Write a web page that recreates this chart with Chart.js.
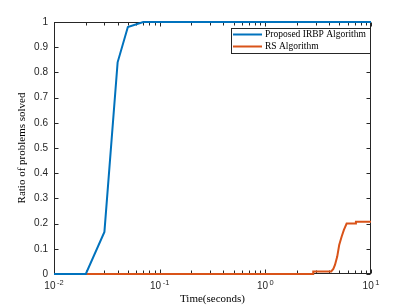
<!DOCTYPE html>
<html><head><meta charset="utf-8">
<script src="https://cdn.jsdelivr.net/npm/chart.js@4/dist/chart.umd.min.js"></script>
<style>html,body{margin:0;padding:0;background:#fff}</style>
</head><body>
<canvas id="c" width="411" height="308"></canvas>
<script>
const seriesNames = ['Proposed IRBP Algorithm', 'RS Algorithm'];
const seriesColors = ['#0072BD', '#D95319'];
const irbpTime  = [0.01, 0.02, 0.03, 0.04, 0.05, 0.07, 10];
const irbpRatio = [0, 0, 0.167, 0.84, 0.98, 1, 1];
const rsTime  = [0.01, 2.84, 2.84, 4.2, 4.4, 4.56, 4.79, 5.0, 5.27, 5.54, 5.88, 7.2, 7.2, 10];
const rsRatio = [0, 0, 0.01, 0.01, 0.02, 0.036, 0.069, 0.115, 0.148, 0.175, 0.2, 0.2, 0.207, 0.207];
const xMajorTicks = [0.01, 0.1, 1, 10];
const xTickBase = '10';
const xTickExponents = ['-2', '-1', '0', '1'];
const yTickValues = [0, 0.1, 0.2, 0.3, 0.4, 0.5, 0.6, 0.7, 0.8, 0.9, 1];
const xTitle = 'Time(seconds)';
const yTitle = 'Ratio of problems solved';

const toPts = (xs, ys) => xs.map((v, i) => ({x: v, y: ys[i]}));
const SANS = '"Liberation Sans", "DejaVu Sans", sans-serif';
const SERIF = '"Liberation Serif", "DejaVu Serif", serif';

const boxPlugin = {
  id: 'matlabBox',
  beforeDatasetsDraw(chart) {
    const {ctx, chartArea: a, scales: {x, y}} = chart;
    ctx.save();
    ctx.strokeStyle = '#262626';
    ctx.lineWidth = 1;
    const L = Math.round(a.left) + 0.5, R = Math.round(a.right) - 0.5;
    const T = Math.round(a.top) + 0.5, B = Math.round(a.bottom) - 0.5;
    ctx.strokeRect(L, T, R - L, B - T);
    ctx.beginPath();
    yTickValues.forEach(v => {
      const p = Math.round(y.getPixelForValue(v)) + 0.5;
      ctx.moveTo(L, p); ctx.lineTo(L + 4, p);
      ctx.moveTo(R, p); ctx.lineTo(R - 4, p);
    });
    xMajorTicks.forEach((d, di) => {
      const mults = di < xMajorTicks.length - 1 ? [1,2,3,4,5,6,7,8,9] : [1];
      mults.forEach(m => {
        const v = d * m;
        const p = Math.round(x.getPixelForValue(v)) + 0.5;
        const len = m === 1 ? 4 : 3;
        ctx.moveTo(p, B); ctx.lineTo(p, B - len);
        ctx.moveTo(p, T); ctx.lineTo(p, T + len);
      });
    });
    ctx.stroke();
    // x tick labels: base with raised exponent
    ctx.fillStyle = '#262626';
    ctx.textBaseline = 'alphabetic';
    xMajorTicks.forEach((v, i) => {
      const p = x.getPixelForValue(v);
      ctx.font = '10px ' + SANS;
      const wb = ctx.measureText(xTickBase).width;
      ctx.font = '7.5px ' + SANS;
      const we = ctx.measureText(xTickExponents[i]).width;
      const gap = 1.5;
      const start = p - (wb + gap + we) / 2;
      ctx.font = '10px ' + SANS;
      ctx.textAlign = 'left';
      ctx.fillText(xTickBase, start, a.bottom + 14.5);
      ctx.font = '7.5px ' + SANS;
      ctx.fillText(xTickExponents[i], start + wb + gap, a.bottom + 10.5);
    });
    ctx.restore();
  },
  afterDatasetsDraw(chart) {
    const {ctx} = chart;
    ctx.save();
    const bx = 231.5, by = 28.5, bw = 139, bh = 25;
    ctx.fillStyle = '#fff';
    ctx.fillRect(bx, by, bw, bh);
    ctx.strokeStyle = '#262626';
    ctx.lineWidth = 1;
    ctx.strokeRect(bx, by, bw, bh);
    const rows = [34.5, 46.5];
    ctx.font = '9.5px ' + SERIF;
    ctx.textBaseline = 'middle';
    ctx.textAlign = 'left';
    chart.data.datasets.forEach((ds, i) => {
      ctx.strokeStyle = ds.borderColor;
      ctx.lineWidth = 2;
      ctx.beginPath();
      ctx.moveTo(233, rows[i]); ctx.lineTo(262, rows[i]);
      ctx.stroke();
      ctx.fillStyle = '#000';
      ctx.fillText(ds.label, 265, rows[i]);
    });
    ctx.restore();
  }
};

new Chart(document.getElementById('c'), {
  type: 'scatter',
  data: {
    datasets: [
      {label: seriesNames[0], data: toPts(irbpTime, irbpRatio), borderColor: seriesColors[0], backgroundColor: seriesColors[0], showLine: true, borderWidth: 2, pointRadius: 0, tension: 0, clip: false},
      {label: seriesNames[1], data: toPts(rsTime, rsRatio), borderColor: seriesColors[1], backgroundColor: seriesColors[1], showLine: true, borderWidth: 2, pointRadius: 0, tension: 0, clip: false}
    ]
  },
  options: {
    responsive: false,
    animation: false,
    devicePixelRatio: 1,
    layout: {padding: {top: 22, right: 40, left: 0, bottom: 0}},
    plugins: {legend: {display: false}, tooltip: {enabled: false}},
    scales: {
      x: {
        type: 'logarithmic', min: 0.01, max: 10,
        grid: {display: false, drawTicks: false},
        border: {display: false},
        afterBuildTicks: s => { s.ticks = xMajorTicks.map(v => ({value: v})); },
        afterFit: s => { s.height = 34; },
        ticks: {
          autoSkip: false, maxRotation: 0, padding: 7, color: 'rgba(0,0,0,0)',
          font: {family: SANS, size: 10},
          callback: () => ''
        },
        title: {display: true, text: xTitle, color: '#000', padding: {top: 0, bottom: 2},
          font: {family: SERIF, size: 11}}
      },
      y: {
        type: 'linear', min: 0, max: 1,
        grid: {display: false, drawTicks: false},
        border: {display: false},
        afterBuildTicks: s => { s.ticks = yTickValues.map(v => ({value: v})); },
        afterFit: s => { s.width = 54; },
        ticks: {
          autoSkip: false, padding: 6, color: '#262626',
          font: {family: SANS, size: 10},
          callback: v => String(parseFloat(Number(v).toFixed(1)))
        },
        title: {display: true, text: yTitle, color: '#000', padding: {top: 16, bottom: 0},
          font: {family: SERIF, size: 11}}
      }
    }
  },
  plugins: [boxPlugin]
});
</script>
</body></html>
